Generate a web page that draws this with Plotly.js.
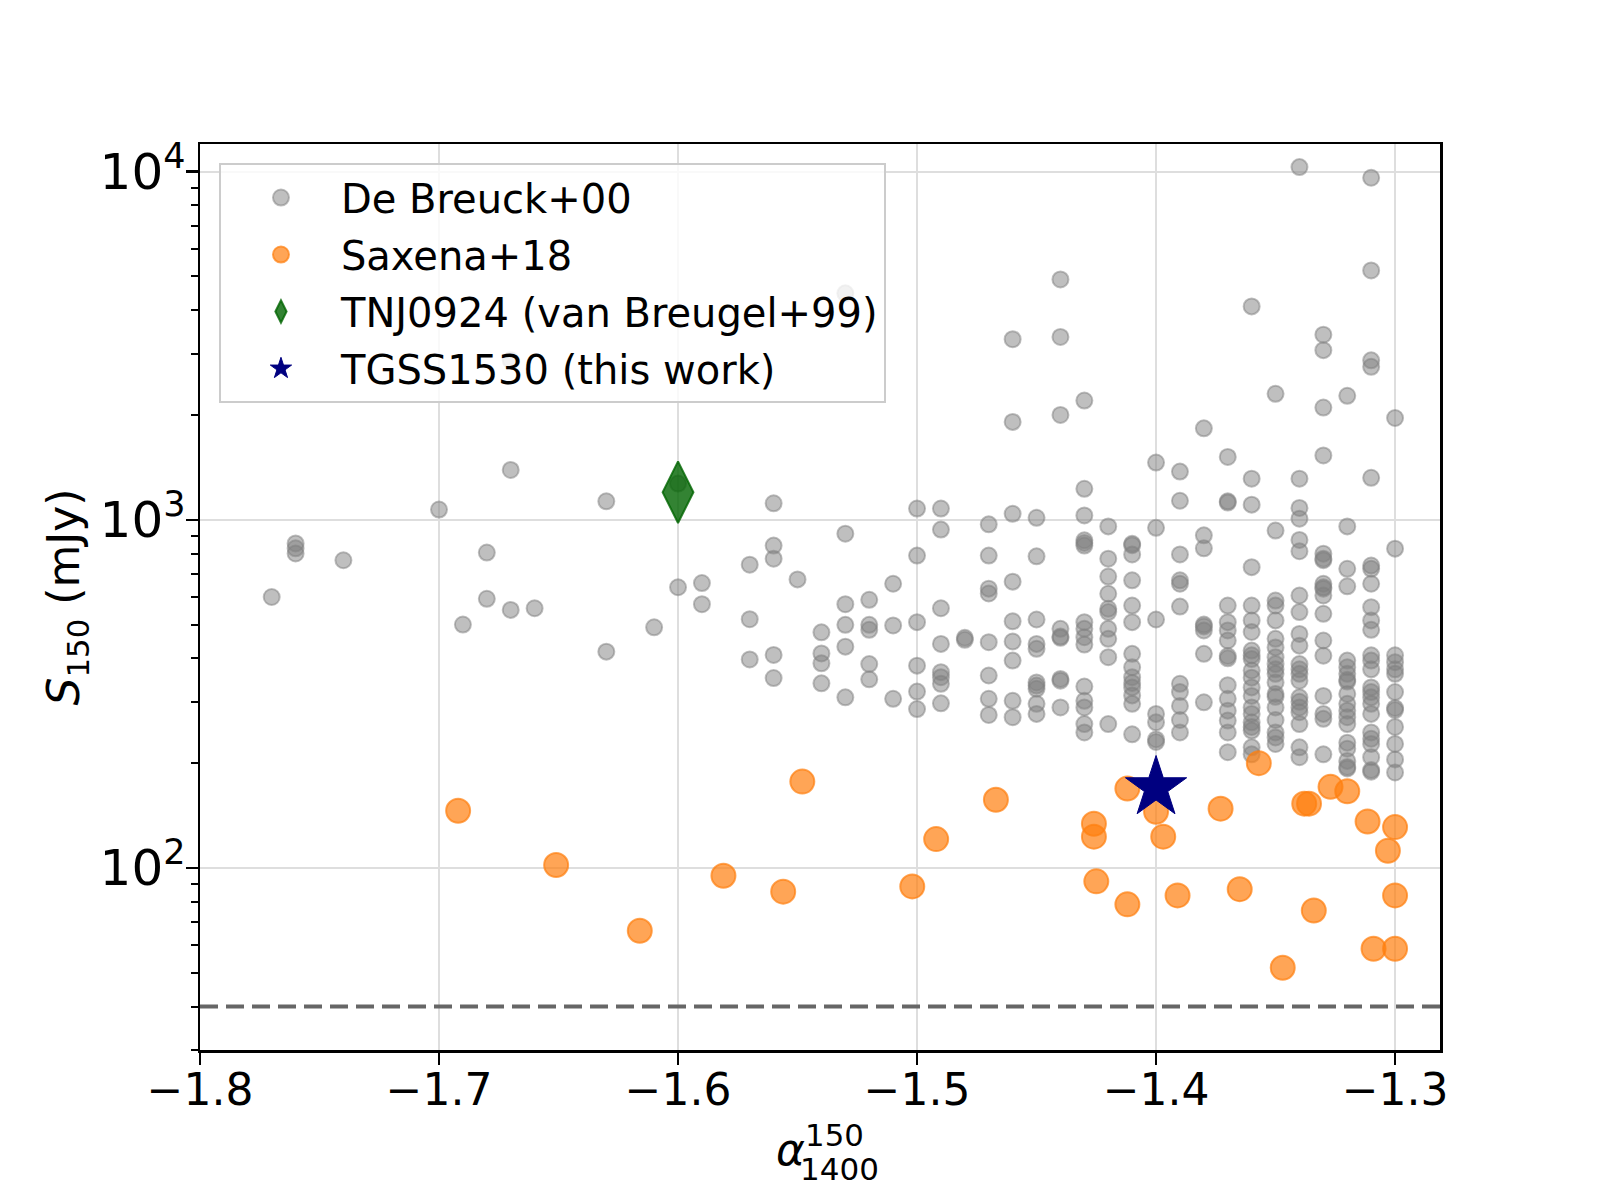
<!DOCTYPE html>
<html>
<head>
<meta charset="utf-8">
<script src="https://cdn.plot.ly/plotly-3.0.1.min.js"></script>
<style>
  html, body { margin: 0; padding: 0; background: #ffffff; }
  #chart { width: 1600px; height: 1200px; }
</style>
</head>
<body>
<div id="chart"></div>
<script>
// ---- De Breuck+00 sample (spectral index, S150 in mJy) ----
const deBreuckAlpha = [
  -1.77,
  -1.76, -1.76, -1.76,
  -1.74,
  -1.70,
  -1.69,
  -1.68, -1.68,
  -1.67, -1.67, -1.67,
  -1.66,
  -1.63, -1.63,
  -1.61,
  -1.60, -1.60,
  -1.59, -1.59,
  -1.57, -1.57, -1.57,
  -1.56, -1.56, -1.56, -1.56, -1.56,
  -1.55,
  -1.54, -1.54, -1.54, -1.54,
  -1.53, -1.53, -1.53, -1.53, -1.53, -1.53,
  -1.52, -1.52, -1.52, -1.52, -1.52,
  -1.51, -1.51, -1.51,
  -1.50, -1.50, -1.50, -1.50, -1.50, -1.50,
  -1.49, -1.49, -1.49, -1.49, -1.49, -1.49, -1.49, -1.49,
  -1.48, -1.48,
  -1.47, -1.47, -1.47, -1.47, -1.47, -1.47, -1.47, -1.47,
  -1.46, -1.46, -1.46, -1.46, -1.46, -1.46, -1.46, -1.46, -1.46,
  -1.45, -1.45, -1.45, -1.45, -1.45, -1.45, -1.45, -1.45, -1.45, -1.45,
  -1.44, -1.44, -1.44, -1.44, -1.44, -1.44, -1.44, -1.44, -1.44,
  -1.43, -1.43, -1.43, -1.43, -1.43, -1.43, -1.43, -1.43, -1.43, -1.43, -1.43, -1.43, -1.43, -1.43, -1.43,
  -1.42, -1.42, -1.42, -1.42, -1.42, -1.42, -1.42, -1.42, -1.42, -1.42,
  -1.41, -1.41, -1.41, -1.41, -1.41, -1.41, -1.41, -1.41, -1.41, -1.41, -1.41, -1.41, -1.41, -1.41,
  -1.40, -1.40, -1.40, -1.40, -1.40, -1.40, -1.40,
  -1.39, -1.39, -1.39, -1.39, -1.39, -1.39, -1.39, -1.39, -1.39, -1.39, -1.39,
  -1.38, -1.38, -1.38, -1.38, -1.38, -1.38, -1.38, -1.38,
  -1.37, -1.37, -1.37, -1.37, -1.37, -1.37, -1.37, -1.37, -1.37, -1.37, -1.37, -1.37, -1.37, -1.37, -1.37,
  -1.36, -1.36, -1.36, -1.36, -1.36, -1.36, -1.36, -1.36, -1.36, -1.36, -1.36, -1.36, -1.36, -1.36, -1.36, -1.36, -1.36, -1.36, -1.36, -1.36, -1.36,
  -1.35, -1.35, -1.35, -1.35, -1.35, -1.35, -1.35, -1.35, -1.35, -1.35, -1.35, -1.35, -1.35, -1.35, -1.35, -1.35, -1.35, -1.35, -1.35,
  -1.34, -1.34, -1.34, -1.34, -1.34, -1.34, -1.34, -1.34, -1.34, -1.34, -1.34, -1.34, -1.34, -1.34, -1.34, -1.34, -1.34, -1.34, -1.34, -1.34, -1.34,
  -1.33, -1.33, -1.33, -1.33, -1.33, -1.33, -1.33, -1.33, -1.33, -1.33, -1.33, -1.33, -1.33, -1.33, -1.33, -1.33, -1.33, -1.33,
  -1.32, -1.32, -1.32, -1.32, -1.32, -1.32, -1.32, -1.32, -1.32, -1.32, -1.32, -1.32, -1.32, -1.32, -1.32, -1.32, -1.32, -1.32, -1.32,
  -1.31, -1.31, -1.31, -1.31, -1.31, -1.31, -1.31, -1.31, -1.31, -1.31, -1.31, -1.31, -1.31, -1.31, -1.31, -1.31, -1.31, -1.31, -1.31, -1.31, -1.31, -1.31, -1.31, -1.31, -1.31,
  -1.30, -1.30, -1.30, -1.30, -1.30, -1.30, -1.30, -1.30, -1.30, -1.30, -1.30, -1.30, -1.30
];
const deBreuckS150 = [
  600,
  855, 828, 800,
  765,
  1070,
  500,
  805, 593,
  2870, 1390, 551,
  557,
  1130, 418,
  491,
  1270, 640,
  658, 572,
  743, 518, 397,
  1115, 843, 773, 409, 351,
  674,
  475, 413, 387, 339,
  4470, 912, 572, 499, 432, 309,
  589, 499, 483, 385, 348,
  655, 497, 306,
  1077, 789, 508, 381, 321, 286,
  1077, 937, 557, 440, 365, 353, 338, 297,
  458, 452,
  970, 789, 634, 614, 445, 357, 306, 275,
  3300, 1910, 1040, 664, 511, 447, 394, 302, 271,
  1013, 785, 517, 440, 426, 341, 334, 327, 296, 277,
  4900, 3350, 2000, 486, 462, 458, 349, 345, 289,
  2200, 1227, 1029, 873, 858, 843, 508, 486, 460, 438, 332, 302, 289, 259, 245,
  957, 773, 687, 613, 555, 543, 486, 455, 403, 259,
  853, 845, 795, 670, 567, 508, 412, 377, 353, 340, 330, 313, 296, 242,
  1460, 948, 517, 277, 262, 234, 230,
  1375, 1134, 795, 670, 655, 563, 338, 320, 292, 266, 245,
  1830, 902, 828, 500, 494, 481, 412, 299,
  1515, 1130, 1120, 567, 508, 481, 450, 406, 400, 335, 306, 283, 265, 245, 215,
  4100, 1312, 1105, 731, 567, 514, 476, 421, 408, 398, 369, 352, 330, 312, 289, 277, 262, 254, 248, 222, 212,
  2300, 931, 586, 567, 514, 455, 430, 403, 385, 372, 361, 341, 316, 310, 289, 266, 245, 237, 227,
  10300, 1312, 1081, 1007, 875, 812, 606, 543, 470, 435, 385, 372, 361, 345, 309, 300, 289, 280, 259, 222, 208,
  3400, 3070, 2100, 1530, 799, 773, 765, 655, 640, 634, 606, 537, 450, 407, 312, 277, 268, 212,
  2270, 957, 723, 644, 394, 377, 361, 347, 343, 316, 296, 283, 271, 259, 229, 220, 203, 195, 193,
  9600, 5200, 2870, 2750, 1320, 739, 723, 655, 561, 514, 483, 408, 394, 372, 330, 320, 309, 296, 277, 245, 235, 227, 208, 191, 189,
  1960, 826, 408, 390, 372, 361, 320, 288, 284, 254, 227, 205, 188
];

// ---- Saxena+18 sample ----
const saxenaAlpha = [
  -1.692, -1.651, -1.616, -1.581, -1.556, -1.548, -1.502, -1.492, -1.467,
  -1.426, -1.426, -1.425, -1.412, -1.412, -1.400, -1.397, -1.391, -1.373,
  -1.365, -1.357, -1.347, -1.338, -1.336, -1.334, -1.327, -1.320, -1.3115,
  -1.309, -1.303, -1.300, -1.300, -1.300
];
const saxenaS150 = [
  146, 102, 66, 95, 85.5, 177, 88.5, 121, 157,
  134, 123, 91.5, 169, 78.6, 145, 123, 83.4, 148,
  86.9, 200, 51.7, 153, 153, 75.5, 171, 166, 136,
  58.6, 112, 131, 83.4, 58.6
];

// ---- Individual sources ----
const tnjAlpha = [-1.60];
const tnjS150 = [1200];
const tgssAlpha = [-1.40];
const tgssS150 = [170];

// ---- Reference flux limit (mJy) ----
const fluxLimit = 40;

// ---- Axis settings ----
const xRange = [-1.8, -1.2812];
const yRangeMJy = [30, 12000];
const legendNames = ['De Breuck+00', 'Saxena+18', 'TNJ0924 (van Breugel+99)', 'TGSS1530 (this work)'];

const FONT = 'DejaVu Sans, Liberation Sans, sans-serif';

const traces = [
  {
    type: 'scatter', mode: 'markers', name: legendNames[0], legendgroup: 'a',
    x: deBreuckAlpha, y: deBreuckS150,
    marker: { symbol: 'circle', size: 16, color: 'rgba(128,128,128,0.5)',
              line: { color: 'rgba(128,128,128,0.5)', width: 2 } },
    hoverinfo: 'x+y'
  },
  {
    type: 'scatter', mode: 'markers', name: legendNames[1], legendgroup: 'b',
    x: saxenaAlpha, y: saxenaS150,
    marker: { symbol: 'circle', size: 24, color: 'rgba(255,127,14,0.7)',
              line: { color: 'rgba(255,127,14,0.7)', width: 2 } },
    hoverinfo: 'x+y'
  },
  {
    type: 'scatter', mode: 'markers', name: legendNames[2], legendgroup: 'c',
    x: tnjAlpha, y: tnjS150,
    marker: { symbol: 'diamond-tall', size: 44, color: 'rgba(0,100,0,0.8)',
              line: { color: 'rgba(0,100,0,0.8)', width: 2 } },
    hoverinfo: 'x+y'
  },
  {
    type: 'scatter', mode: 'markers', name: legendNames[3], legendgroup: 'd',
    x: tgssAlpha, y: tgssS150,
    marker: { symbol: 'star', size: 46, color: '#000080',
              line: { color: '#000080', width: 1 } },
    hoverinfo: 'x+y'
  }
];

const layout = {
  width: 1600, height: 1200,
  margin: { l: 200, r: 160, t: 144, b: 150 },
  paper_bgcolor: '#ffffff', plot_bgcolor: '#ffffff',
  font: { family: FONT, color: '#000000', size: 40 },
  showlegend: true,
  legend: {
    x: 0.0153, y: 0.979, xanchor: 'left', yanchor: 'top',
    bgcolor: 'rgba(255,255,255,0.8)', bordercolor: '#cccccc', borderwidth: 2,
    font: { family: FONT, size: 40, color: '#000000' },
    tracegroupgap: 2, itemwidth: 110
  },
  xaxis: {
    range: xRange, tickmode: 'linear', tick0: -1.8, dtick: 0.1,
    ticks: 'outside', ticklen: 12, tickwidth: 2.5, tickcolor: '#000000',
    ticklabelstandoff: -12,
    showline: true, linecolor: '#000000', linewidth: 2.5, mirror: true,
    showgrid: true, gridcolor: '#dedede', gridwidth: 2,
    zeroline: false,
    tickfont: { family: FONT, size: 44, color: '#000000' },
    title: { text: '<i>α</i><sup>150</sup>', font: { family: FONT, size: 44 }, standoff: 20 }
  },
  yaxis: {
    type: 'log', range: [Math.log10(yRangeMJy[0]), Math.log10(yRangeMJy[1])],
    tickmode: 'linear', tick0: 0, dtick: 1,
    exponentformat: 'power', showexponent: 'all',
    ticks: 'outside', ticklen: 12, tickwidth: 2.5, tickcolor: '#000000',
    ticklabelstandoff: -8,
    minor: { ticks: 'outside', ticklen: 7, tickwidth: 2, tickcolor: '#000000', dtick: 'D1', showgrid: false },
    showline: true, linecolor: '#000000', linewidth: 2.5, mirror: true,
    showgrid: true, gridcolor: '#dedede', gridwidth: 2,
    zeroline: false,
    tickfont: { family: FONT, size: 40, color: '#000000' },
    title: { text: '<i>S</i><sub>150</sub> (mJy)', font: { family: FONT, size: 44 }, standoff: 6 }
  },
  shapes: [
    { type: 'line', xref: 'paper', yref: 'y', x0: 0, x1: 1, y0: fluxLimit, y1: fluxLimit,
      line: { color: '#666666', width: 4, dash: '18px,8px' }, layer: 'above' }
  ],
  annotations: [
    { xref: 'paper', yref: 'paper', x: (798 - 200) / 1240, y: (1050 - 1169) / 906,
      xanchor: 'left', yanchor: 'middle', showarrow: false, text: '1400',
      font: { family: FONT, size: 31, color: '#000000' } }
  ]
};

Plotly.newPlot('chart', traces, layout, { displayModeBar: false, staticPlot: true });
</script>
</body>
</html>
